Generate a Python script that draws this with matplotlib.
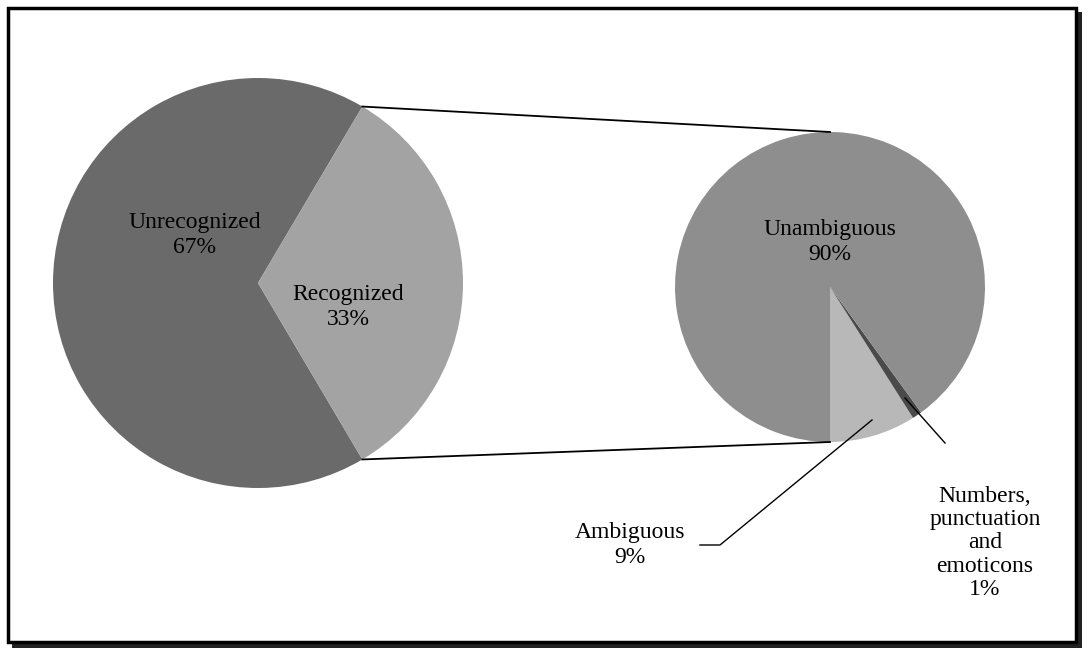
import numpy as np
import matplotlib.pyplot as plt
from matplotlib.patches import Rectangle

plt.rcParams['font.family'] = ['Liberation Serif', 'DejaVu Serif']

main_labels = ['Unrecognized', 'Recognized']
main_values = [67, 33]
main_colors = ['#6a6a6a', '#a3a3a3']

sub_labels = ['Ambiguous', 'Numbers, punctuation and emoticons', 'Unambiguous']
sub_values = [9, 1, 90]
sub_colors = ['#b8b8b8', '#4a4a4a', '#8e8e8e']

W, H = 1089, 654
fig = plt.figure(figsize=(W / 100, H / 100), dpi=100)
ax = fig.add_axes([0, 0, 1, 1])


def Y(y):
    # pixel row (from top) -> data y
    return H - y


# frame with shadow
ax.add_patch(Rectangle((12, Y(648)), 1070, 636, facecolor='#222222', edgecolor='none'))
ax.add_patch(Rectangle((8, Y(642)), 1068, 634, facecolor='white', edgecolor='black', lw=2.5))

c1, r1 = (258, Y(283)), 205
c2, r2 = (830, Y(287)), 155

ang_rec = main_values[1] / 100 * 360
ax.pie(main_values, center=c1, radius=r1, colors=main_colors,
       startangle=ang_rec / 2, counterclock=True, frame=False)
ax.pie(sub_values, center=c2, radius=r2, colors=sub_colors,
       startangle=-90, counterclock=True, frame=False)
ax.set_xlim(0, W)
ax.set_ylim(0, H)
ax.set_aspect('equal')
ax.axis('off')

# connector lines
a = np.deg2rad(ang_rec / 2)
p_top = (c1[0] + r1 * np.cos(a), c1[1] + r1 * np.sin(a))
p_bot = (c1[0] + r1 * np.cos(a), c1[1] - r1 * np.sin(a))
ax.plot([p_top[0], c2[0]], [p_top[1], c2[1] + r2], color='black', lw=1.3)
ax.plot([p_bot[0], c2[0]], [p_bot[1], c2[1] - r2], color='black', lw=1.3)

fs = 17
ax.text(195, Y(235), f'{main_labels[0]}\n{main_values[0]}%', ha='center', va='center', fontsize=fs)
ax.text(348, Y(307), f'{main_labels[1]}\n{main_values[1]}%', ha='center', va='center', fontsize=fs)
ax.text(830, Y(242), f'{sub_labels[2]}\n{sub_values[2]}%', ha='center', va='center', fontsize=fs)
ax.text(630, Y(545), f'{sub_labels[0]}\n{sub_values[0]}%', ha='center', va='center', fontsize=fs)
ax.text(985, Y(543), f'Numbers,\npunctuation\nand\nemoticons\n{sub_values[1]}%', ha='center',
        va='center', fontsize=fs, linespacing=1.15)

# leader lines
ax.plot([700, 720, 872], [Y(545), Y(545), Y(420)], color='black', lw=1)
ax.plot([945, 905], [Y(443), Y(398)], color='black', lw=1)

fig.savefig('out.png', dpi=100)
